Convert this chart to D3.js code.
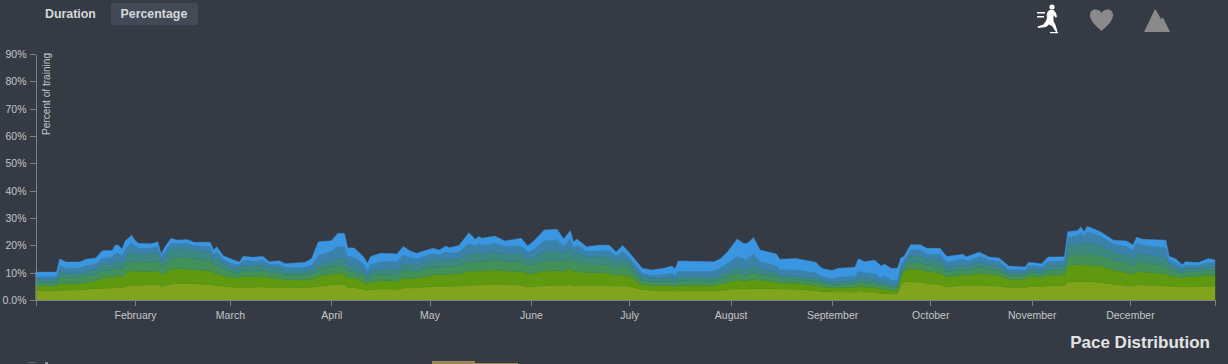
<!DOCTYPE html>
<html>
<head>
<meta charset="utf-8">
<script src="https://cdn.jsdelivr.net/npm/d3@7"></script>
<style>
  html, body { margin: 0; padding: 0; background: #353b44; overflow: hidden; }
  text { font-family: "Liberation Sans", Arial, sans-serif; }
  .axis path, .axis line { stroke: #7c8087; shape-rendering: crispEdges; }
  .axis text { fill: #c4c6c9; font-size: 10.5px; }
  .bands { filter: blur(0.6px); }
</style>
</head>
<body>
<svg id="chart" width="1228" height="364"></svg>
<script>
// day of the year (2016), one value per sample
const days = [1.6,8,9,11,15,17,20,22,25,26,27,28,29,31,32,33,37,39,40,41,
  43,45,48,50,55,56,57,59,61,63,64,65,68,71,73,76,78,84,86,88,
  92,94,96,97,99,102,103,104,107,110,112,114,116,118,123,125,127,128,131,134,
  136,137,138,142,145,150,152,154,157,161,163,165,166,167,170,174,177,179,181,183,
  187,190,194,196,197,198,209,211,213,216,218,219,221,223,228,229,234,240,242,245,
  247,252,253,255,258,260,261,263,265,266,267,269,272,274,278,280,285,286,290,293,
  296,299,304,305,307,309,311,316,317,320,321,322,323,327,331,335,337,338,340,347,
  348,350,352,353,357,360,362];

// upper edge of each pace band in percent (bottom band first)
const zone1 = [3.4,3.4,3.6,3.6,3.7,3.9,4.2,4.3,4.4,4.6,4.7,4.5,4.9,5.3,5.3,5.4,5.5,5.6,5.0,5.2,
  5.8,6.0,6.0,5.9,5.6,5.4,5.3,5.0,4.8,4.7,4.7,4.7,4.7,4.8,4.6,4.6,4.4,4.5,4.7,5.0,
  5.5,5.7,5.7,4.6,4.6,3.8,3.5,3.8,4.0,4.0,3.8,4.4,4.4,4.4,4.9,5.0,5.0,5.0,5.1,5.4,
  5.4,5.6,5.5,5.8,5.8,5.3,4.8,4.9,5.2,5.4,5.2,5.6,5.2,5.3,5.3,5.3,5.3,5.0,5.1,5.0,
  3.8,3.5,3.3,3.3,3.2,3.3,3.3,3.6,3.8,4.1,3.9,4.0,4.2,4.2,4.0,4.0,3.9,3.4,3.0,2.9,
  2.9,2.9,3.4,2.9,2.8,2.4,2.5,2.2,2.2,5.5,6.7,6.6,6.4,6.0,5.6,4.8,5.4,5.2,5.4,5.2,
  5.0,4.6,4.6,5.0,5.0,4.8,5.2,5.2,6.6,6.8,6.8,6.8,6.8,6.4,5.8,5.2,5.0,5.6,5.4,5.2,
  5.0,4.9,4.8,4.8,4.9,5.0,5.0];
const zone2 = [5.1,5.1,6.0,5.9,6.0,6.4,7.0,8.0,8.4,8.7,8.8,8.4,9.6,10.8,10.6,10.4,10.4,10.7,9.4,9.8,
  11.2,11.6,11.2,11.0,10.8,9.8,9.8,9.0,8.4,8.2,8.2,8.6,8.6,8.8,8.2,7.8,7.4,7.3,7.6,8.6,
  9.4,9.8,9.8,8.2,8.0,6.8,5.8,6.6,7.0,7.0,6.8,8.0,8.0,8.0,9.2,9.2,9.4,9.4,9.6,10.6,
  10.4,10.8,10.6,11.0,10.6,10.4,9.6,9.8,10.6,10.8,10.4,11.6,10.4,10.6,10.0,10.0,9.8,9.0,9.4,8.8,
  5.6,5.3,5.2,5.3,4.8,5.3,5.3,6.0,6.4,7.4,7.0,7.0,7.6,7.1,6.6,6.2,6.0,5.4,4.8,4.4,
  4.5,4.6,5.2,4.8,4.6,3.9,4.1,3.5,3.5,8.2,10.6,11.4,11.2,10.4,10.0,8.4,9.2,9.0,9.8,9.4,
  9.0,7.6,7.6,8.6,8.6,8.2,9.0,9.2,12.6,13.0,13.0,12.6,12.8,12.4,11.0,10.0,9.4,10.6,10.2,9.6,
  8.8,8.6,8.2,8.4,8.8,9.0,9.0];
const zone3 = [6.3,6.3,8.5,8.2,8.3,8.8,9.4,10.6,11.0,11.6,11.6,11.0,12.6,14.4,14.0,13.8,13.8,14.2,12.2,13.0,
  14.8,15.6,15.4,15.0,14.4,12.6,12.8,11.4,10.4,10.0,10.0,10.8,10.6,10.8,10.2,9.8,9.2,9.2,9.6,10.8,
  12.0,12.4,12.4,10.6,10.2,8.8,7.2,8.6,9.2,9.2,9.0,10.8,10.6,10.4,12.0,12.0,12.4,12.2,12.6,14.0,
  13.8,14.2,14.0,14.6,14.0,14.0,12.8,13.0,14.4,14.6,13.8,15.4,13.8,14.0,13.2,13.2,12.8,11.8,12.6,11.4,
  7.2,6.7,6.7,6.8,6.2,7.0,6.9,7.8,8.4,9.8,9.2,9.0,10.2,9.2,8.4,7.8,7.6,6.8,6.2,5.6,
  5.8,6.0,6.8,6.4,6.2,5.2,5.6,4.6,4.6,9.6,11.6,13.8,13.6,12.6,12.2,10.2,11.0,10.8,12.0,11.4,
  10.8,9.0,9.0,10.0,10.0,9.6,10.8,11.0,16.2,16.8,17.0,16.4,17.0,16.4,14.6,13.4,12.4,14.0,13.6,12.6,
  11.2,10.6,9.8,10.2,10.4,10.8,10.8];
const zone4 = [7.4,7.4,10.4,9.8,9.9,10.6,11.3,12.8,13.3,14.2,14.2,13.6,15.5,17.8,17.0,16.8,16.8,17.4,14.4,15.4,
  18.0,18.8,18.6,18.2,17.4,14.8,15.2,13.4,12.0,11.6,11.6,12.6,12.4,12.6,11.8,11.4,10.6,10.6,11.0,13.0,
  14.4,15.4,15.2,12.8,12.4,10.4,8.8,10.6,11.2,11.4,11.0,13.2,12.8,12.6,14.6,14.4,15.0,14.6,15.0,17.0,
  16.8,17.6,17.0,17.6,16.8,16.8,15.2,15.6,17.8,18.4,17.0,19.0,16.6,17.0,15.8,16.0,15.6,14.0,15.0,13.6,
  8.4,7.8,8.0,8.2,7.4,8.4,8.4,9.6,10.6,12.2,11.2,11.0,12.6,11.2,10.2,9.0,8.8,8.0,7.2,6.4,
  6.8,7.0,8.2,7.8,7.6,6.2,6.8,5.6,5.6,11.0,13.0,16.2,16.0,14.8,14.4,11.8,12.8,12.4,13.8,13.0,
  12.4,10.0,10.0,11.2,11.2,10.8,12.4,12.8,19.8,20.4,21.0,20.0,21.0,20.0,17.6,16.4,15.0,17.4,16.6,15.6,
  13.0,12.0,10.8,11.4,11.6,12.2,12.0];
const zone5 = [8.5,8.5,12.6,11.6,11.7,12.6,13.2,15.3,15.6,17.0,17.0,16.0,18.4,21.0,19.8,19.0,19.0,19.6,15.8,17.4,
  20.8,20.8,20.8,20.0,19.6,16.8,17.6,15.0,13.6,13.0,13.0,14.6,14.2,14.6,13.2,13.2,12.0,12.0,12.8,16.4,
  17.8,19.6,19.4,16.0,15.6,13.0,10.8,13.0,14.0,14.2,14.0,16.6,15.6,15.0,17.0,16.6,17.6,17.0,17.6,20.6,
  19.8,20.8,20.0,20.8,19.6,19.8,17.6,18.6,21.6,22.0,19.8,22.4,19.0,20.0,17.8,18.0,18.0,16.0,17.8,15.6,
  9.8,9.0,9.4,10.0,9.0,10.6,10.6,11.8,13.4,16.0,15.0,15.0,16.8,14.0,12.6,11.2,11.0,10.0,8.6,7.8,
  8.4,8.6,10.6,10.0,9.8,8.0,9.0,7.2,7.2,13.0,14.4,18.4,18.4,16.8,16.8,13.8,15.0,14.2,16.0,14.6,
  14.2,11.2,11.0,12.6,12.6,12.0,14.2,14.4,23.0,23.6,24.6,23.4,25.0,23.4,20.4,19.6,18.2,21.0,20.0,19.2,
  14.8,13.6,12.0,12.8,12.8,13.8,13.6];
const zone6 = [10.2,10.2,15.0,13.9,13.9,14.9,15.4,18.0,18.1,20.1,20.0,18.6,21.6,23.7,21.8,20.8,20.6,21.3,16.8,19.1,
  22.6,21.9,22.1,21.1,21.1,18.3,19.5,16.2,15.2,14.3,14.0,16.0,15.6,16.0,14.0,14.4,13.3,13.8,15.2,21.3,
  21.7,24.4,24.4,19.1,19.0,15.6,13.4,15.9,17.1,17.0,16.8,19.6,18.0,17.1,18.9,18.3,19.8,19.1,19.9,24.6,
  22.2,23.2,22.6,23.4,21.6,22.6,19.8,21.8,25.6,25.9,22.3,25.4,21.2,22.3,19.5,20.1,20.0,17.6,19.9,17.4,
  11.6,11.0,11.7,12.4,11.4,14.3,14.0,15.2,17.6,22.3,20.7,20.7,22.8,18.3,16.8,14.9,15.2,13.8,11.5,10.8,
  11.6,12.0,15.1,14.0,14.6,12.4,13.2,11.6,11.6,15.4,16.0,20.2,20.2,18.9,18.9,15.9,16.7,15.8,17.5,15.7,
  15.4,12.4,12.1,13.7,13.6,13.2,15.7,15.8,25.0,25.4,26.7,25.0,27.0,25.0,21.9,21.6,20.1,23.0,22.2,21.9,
  16.0,15.0,12.9,14.0,13.7,15.2,14.6];

const zones = [zone1, zone2, zone3, zone4, zone5, zone6];
const zoneColors = ['#80a51c', '#5f990f', '#42905a', '#3b8880', '#3a82aa', '#3b96e2'];
const monthNames = ['February','March','April','May','June','July','August','September','October','November','December'];
const yTicks = [0, 10, 20, 30, 40, 50, 60, 70, 80, 90];

const dayToDate = d => new Date(Date.UTC(2016, 0, 1) + (d - 1) * 864e5);
const dates = days.map(dayToDate);

const svg = d3.select('#chart');

const xScale = d3.scaleUtc()
    .domain([dates[0], dates[dates.length - 1]])
    .range([35.5, 1215]);
const yScale = d3.scaleLinear()
    .domain([0, 90])
    .range([300, 54]);

const area = (lower, upper) => d3.area()
    .x((d, i) => xScale(dates[i]))
    .y0((d, i) => yScale(lower ? lower[i] : 0))
    .y1((d, i) => yScale(upper[i]));

svg.append('g')
    .attr('class', 'bands')
  .selectAll('path')
    .data(zones)
    .enter()
  .append('path')
    .attr('fill', (d, i) => zoneColors[i])
    .attr('stroke', (d, i) => zoneColors[i])
    .attr('stroke-width', 0.4)
    .attr('d', (d, i) => area(zones[i - 1], d)(days));

// axes
const monthTicks = monthNames.map((m, i) => new Date(Date.UTC(2016, i + 1, 1)));
const xAxis = d3.axisBottom(xScale)
    .tickValues(monthTicks)
    .tickFormat((d, i) => monthNames[i])
    .tickSize(6);
const yAxis = d3.axisLeft(yScale)
    .tickValues(yTicks)
    .tickFormat(d => d === 0 ? '0.0%' : d + '%')
    .tickSize(6)
    .tickSizeOuter(0);

svg.append('g')
    .attr('class', 'axis')
    .attr('transform', 'translate(0,300)')
    .call(xAxis)
    .selectAll('text').attr('dy', '0.95em');
svg.append('g')
    .attr('class', 'axis')
    .attr('transform', 'translate(35.5,0)')
    .call(yAxis);

svg.append('text')
    .attr('transform', 'translate(49.5,53) rotate(-90)')
    .attr('text-anchor', 'end')
    .attr('fill', '#c4c6c9')
    .attr('font-size', 10.1)
    .text('Percent of training');

// mode buttons
svg.append('rect')
    .attr('x', 111).attr('y', 3)
    .attr('width', 87).attr('height', 22)
    .attr('rx', 2)
    .attr('fill', '#424957');
svg.selectAll('.mode')
    .data([{label: 'Duration', x: 45}, {label: 'Percentage', x: 120.5}])
    .enter()
  .append('text')
    .attr('class', 'mode')
    .attr('x', d => d.x)
    .attr('y', 18)
    .attr('fill', '#d6d8da')
    .attr('font-size', 12.4)
    .attr('font-weight', 'bold')
    .text(d => d.label);

svg.append('text')
    .attr('x', 1210)
    .attr('y', 348)
    .attr('text-anchor', 'end')
    .attr('fill', '#e2e3e5')
    .attr('font-size', 17)
    .attr('font-weight', 'bold')
    .text('Pace Distribution');

// runner icon
const runner = svg.append('g').attr('fill', '#fff').attr('stroke', 'none');
runner.append('circle').attr('cx', 1052).attr('cy', 7).attr('r', 2.6);
runner.append('path').attr('d',
  'M1049.5 10 L1053.5 10 L1056 13 L1057 17 L1055.5 17.5 L1053.5 15 L1053.5 21 L1055.5 25 L1057.5 31.5 L1056 32 L1052 26 ' +
  'L1049 24.5 L1046 27 L1038 28 L1037.5 26.5 L1043.5 24.5 L1046.5 20 L1047.5 15 L1046 17.5 L1047.5 12 Z');
runner.append('rect').attr('x', 1050).attr('y', 32).attr('width', 8).attr('height', 1.2);
runner.append('rect').attr('x', 1037).attr('y', 12).attr('width', 8).attr('height', 1.5);
runner.append('rect').attr('x', 1037).attr('y', 16).attr('width', 7).attr('height', 1.5);

// heart and mountain icons
svg.append('path')
    .attr('fill', '#8a8a8a')
    .attr('d', 'M1101.5 31 C1096 26 1090 21 1090 15 C1090 11.5 1092.5 9.5 1095.5 9.5 C1098 9.5 1100.5 11 1101.5 13 ' +
      'C1102.5 11 1105 9.5 1107.5 9.5 C1110.5 9.5 1113 11.5 1113 15 C1113 21 1107 26 1101.5 31 Z');
svg.append('path')
    .attr('fill', '#8a8a8a')
    .attr('d', 'M1144 32 L1154.5 10 L1156 10 L1161 19 L1163 17.5 L1170 32 Z');

// top edge of the next chart, cut off by the picture
svg.append('rect').attr('x', 432).attr('y', 361).attr('width', 43).attr('height', 3).attr('fill', '#9a8757');
svg.append('rect').attr('x', 475).attr('y', 363).attr('width', 43).attr('height', 1).attr('fill', '#9a8757');
svg.append('rect').attr('x', 28).attr('y', 362).attr('width', 8).attr('height', 1).attr('fill', '#666a71');
svg.append('rect').attr('x', 45).attr('y', 362).attr('width', 3).attr('height', 2).attr('fill', '#8f9296');
</script>
</body>
</html>
